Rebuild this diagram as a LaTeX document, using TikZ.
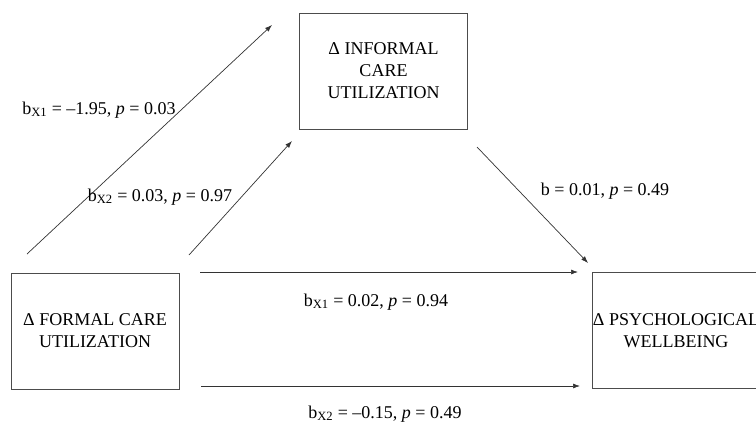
\documentclass[tikz,border=0pt]{standalone}
\usepackage{fontspec}
\setmainfont{Liberation Serif}
\usetikzlibrary{arrows.meta}
\begin{document}
\begin{tikzpicture}[x=1pt, y=-1pt, font=\fontsize{18}{22}\selectfont,
		box/.style={draw=black!70, line width=0.8pt, rectangle, minimum width=168pt, minimum height=116pt, align=center, inner sep=0pt},
		path/.style={draw=black!80, line width=0.7pt, -{Latex[length=7pt, width=5pt]}},
		coef/.style={inner sep=0pt}]
		\useasboundingbox (0,0) rectangle (756,424);

		\node[box] (formalCare) at (95,331) {Δ FORMAL CARE\\UTILIZATION};
		\node[box] (informalCare) at (383.5,71) {Δ INFORMAL\\CARE\\UTILIZATION};
		\node[box] (wellbeing) at (676,330.5) {Δ PSYCHOLOGICAL\\WELLBEING};

		\coordinate (a1Start) at (27,254);
		\coordinate (a1End) at (272,25);
		\coordinate (a2Start) at (189,255);
		\coordinate (a2End) at (292,141);
		\coordinate (bStart) at (477,147);
		\coordinate (bEnd) at (588,263);
		\coordinate (c1Start) at (200,272);
		\coordinate (c1End) at (578,272);
		\coordinate (c2Start) at (201,386);
		\coordinate (c2End) at (580,386);

		\draw[path] (a1Start) -- (a1End);
		\draw[path] (a2Start) -- (a2End);
		\draw[path] (bStart) -- (bEnd);
		\draw[path] (c1Start) -- (c1End);
		\draw[path] (c2Start) -- (c2End);

		\node[coef] (coefA1) at (99,110) {b\textsubscript{X1} = –1.95, \textit{p} = 0.03};
		\node[coef] (coefA2) at (160,197) {b\textsubscript{X2} = 0.03, \textit{p} = 0.97};
		\node[coef] (coefB) at (605,191) {b = 0.01, \textit{p} = 0.49};
		\node[coef] (coefC1) at (376,302) {b\textsubscript{X1} = 0.02, \textit{p} = 0.94};
		\node[coef] (coefC2) at (385,414) {b\textsubscript{X2} = –0.15, \textit{p} = 0.49};
	\end{tikzpicture}
\end{document}
